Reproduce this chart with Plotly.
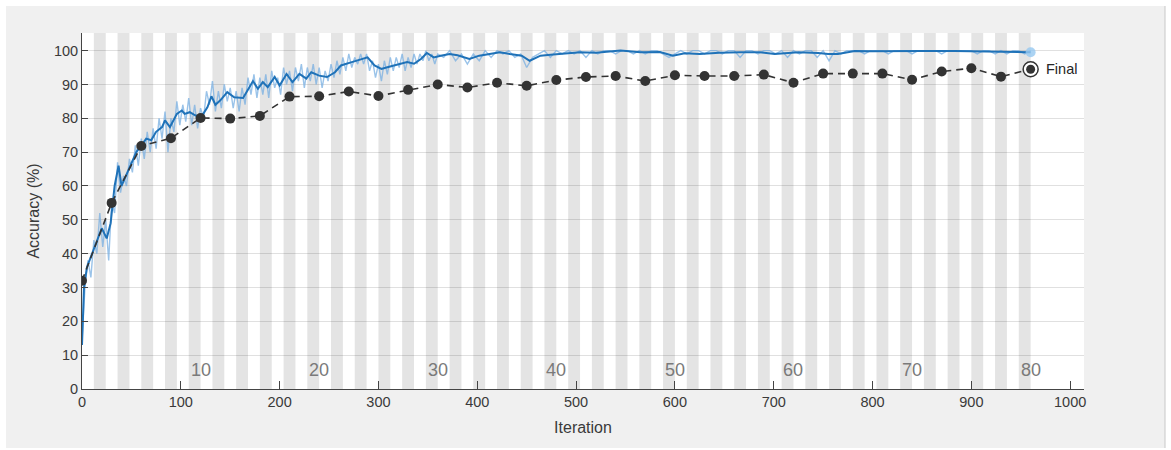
import plotly.graph_objects as go

# ---------------- data ----------------
ITERS_PER_EPOCH = 12
N_EPOCHS = 80
epoch_labels = [10, 20, 30, 40, 50, 60, 70, 80]

# raw training accuracy (mini-batch), iterations 0..360 every 3, then 366..960 every 6
raw_iter_a = list(range(0, 361, 3))
raw_acc_a = [14, 30, 38, 33, 44, 40, 52, 42, 50, 38,
             55, 52, 67, 58, 63, 60, 68, 64, 72, 66,
             74, 68, 76, 70, 77, 71, 80, 74, 82, 70,
             80, 76, 85, 78, 84, 79, 86, 78, 84, 77,
             83, 80, 88, 84, 91, 82, 88, 83, 90, 85,
             89, 83, 88, 82, 89, 84, 92, 87, 93, 86,
             92, 87, 93, 86, 94, 89, 92, 87, 95, 90,
             94, 88, 95, 91, 96, 89, 95, 91, 96, 90,
             95, 89, 94, 91, 96, 92, 97, 93, 98, 94,
             99, 95, 98, 96, 99, 96, 99, 94, 97, 92,
             96, 91, 97, 93, 98, 94, 98, 95, 99, 94,
             98, 95, 99, 96, 99, 97, 100, 97, 99, 96,
             99]
raw_iter_b = list(range(366, 961, 6))
raw_acc_b = [98, 100, 97, 99, 96, 99, 97, 100, 98, 100,
             99, 100, 98, 99, 95, 98, 99, 100, 98, 100,
             99, 100, 99, 100, 98, 100, 99, 100, 100, 99,
             100, 100, 99, 100, 99, 100, 100, 99, 98, 99,
             100, 99, 100, 100, 99, 100, 100, 99, 100, 100,
             98, 100, 100, 99, 100, 100, 99, 100, 98, 100,
             99, 100, 100, 98, 100, 97, 100, 99, 100, 100,
             100, 99, 100, 100, 100, 99, 100, 100, 100, 99,
             100, 100, 100, 100, 99, 100, 100, 100, 100, 100,
             99, 100, 100, 99, 100, 99, 100, 100, 99, 100]
raw_iter = raw_iter_a + raw_iter_b
raw_acc = raw_acc_a + raw_acc_b

# smoothed training accuracy
smooth_iter = [0, 2, 5, 10, 15, 20, 25, 29, 33, 37, 40, 45, 50, 55, 60, 65, 70, 75,
               81, 84, 89, 93, 96, 101, 104, 109, 115, 121, 127, 131, 135, 140, 147,
               154, 163, 170, 173, 178, 183, 188, 195, 200, 207, 213, 220, 227, 232,
               240, 248, 256, 262, 273, 279, 289, 296, 303, 309, 316, 323, 329, 336,
               343, 349, 356, 363, 372, 380, 392, 402, 412, 423, 433, 445, 453, 464,
               474, 484, 504, 520, 545, 565, 585, 598, 610, 625, 645, 666, 686, 701,
               725, 745, 755, 765, 782, 800, 816, 850, 883, 900, 917, 935, 951, 960]
smooth_acc = [13, 30, 36, 40, 44, 47.5, 44.5, 49, 60, 66, 60, 63.5, 67, 70, 72, 74, 73.5, 76,
              77.4, 79.4, 77.4, 79.4, 81.3, 82.3, 81.3, 81.8, 80.8, 80.5, 83.3, 86.5, 84, 85.3, 87.7,
              86.2, 86, 89.5, 91, 88.7, 90.7, 89.2, 92.2, 89.7, 93.1, 90.7, 93.1, 91.7, 93.6,
              92.6, 92.2, 93.6, 95.6, 96.6, 97.1, 98, 95.6, 94.6, 95.1, 95.6, 96.1, 96.6, 96.1,
              97.5, 99.3, 98, 98.5, 99, 98.6, 97.5, 98.5, 99, 99.5, 99, 98.5, 97, 98.5,
              98.8, 99, 99.5, 99.4, 100, 99.5, 99.6, 98.5, 99.2, 99, 99.4, 99.5, 99.5, 99,
              99.5, 99.3, 99, 99, 99.9, 99.8, 99.9, 99.9, 99.9, 99.8, 99.7, 99.5, 99.4, 99.5]

# validation accuracy, every 30 iterations
val_iter = list(range(0, 961, 30))
val_acc = [32, 55, 71.8, 74.1, 80.1, 79.9, 80.7, 86.4, 86.5, 87.9, 86.6,
           88.4, 90.0, 89.1, 90.5, 89.6, 91.3, 92.2, 92.5, 91.0, 92.7,
           92.5, 92.5, 92.9, 90.5, 93.2, 93.2, 93.2, 91.4, 93.8, 94.8,
           92.3, 94.5]

final_label = "Final"

x_ticks = list(range(0, 1001, 100))
y_ticks = list(range(0, 101, 10))

# ---------------- figure ----------------
FONT = "Liberation Sans, Arial, sans-serif"
TXT = "#3a3a3a"

fig = go.Figure()

fig.add_trace(go.Scatter(x=raw_iter, y=raw_acc, mode="lines",
                         line=dict(color="rgba(120,175,225,0.75)", width=1.4),
                         hoverinfo="skip", showlegend=False))
fig.add_trace(go.Scatter(x=smooth_iter, y=smooth_acc, mode="lines",
                         line=dict(color="#1f72b8", width=2),
                         showlegend=False))
fig.add_trace(go.Scatter(x=[smooth_iter[-1]], y=[smooth_acc[-1]], mode="markers",
                         marker=dict(color="rgba(150,200,240,0.8)", size=10),
                         showlegend=False))
fig.add_trace(go.Scatter(x=val_iter, y=val_acc, mode="lines",
                         line=dict(color="#333333", width=1.6, dash="7px,5px"),
                         showlegend=False))
fig.add_trace(go.Scatter(x=val_iter[:-1], y=val_acc[:-1], mode="markers",
                         marker=dict(color="#333333", size=10),
                         showlegend=False))
# final marker: ring + dot
fig.add_trace(go.Scatter(x=[val_iter[-1]], y=[val_acc[-1]], mode="markers",
                         marker=dict(color="white", size=15,
                                     line=dict(color="#333333", width=1.5)),
                         showlegend=False))
fig.add_trace(go.Scatter(x=[val_iter[-1]], y=[val_acc[-1]], mode="markers",
                         marker=dict(color="#333333", size=9),
                         showlegend=False))

# pixel -> paper helpers for the outer white frame
PL, PR, PT, PB = 82, 1084, 33, 389
def px(v):
    return (v - PL) / (PR - PL)
def py(v):
    return (PB - v) / (PB - PT)

shapes = []
# thin white frame around the gray figure panel (outside the plot area)
for (x0, x1, y0, y1) in [(0, 6, 0, 450), (1165, 1171, 0, 450), (0, 1171, 0, 6), (0, 1171, 448, 450)]:
    shapes.append(dict(type="rect", xref="paper", yref="paper",
                       x0=px(x0), x1=px(x1), y0=py(y1), y1=py(y0),
                       fillcolor="white", line=dict(width=0), layer="below"))
shapes.append(dict(type="line", xref="paper", yref="paper",
                   x0=px(1165), x1=px(1165), y0=py(448), y1=py(6),
                   line=dict(color="#c8c8c8", width=1), layer="below"))
# epoch bands (even epochs shaded)
for e in range(1, N_EPOCHS + 1):
    if e % 2 == 0:
        shapes.append(dict(type="rect", xref="x", yref="y domain",
                           x0=(e - 1) * ITERS_PER_EPOCH, x1=e * ITERS_PER_EPOCH,
                           y0=0, y1=1, fillcolor="#e4e4e4",
                           line=dict(width=0), layer="below"))

annotations = []
for ep in epoch_labels:
    annotations.append(dict(x=ep * ITERS_PER_EPOCH, y=5.6, xref="x", yref="y",
                            text=str(ep), showarrow=False,
                            font=dict(family=FONT, size=18, color="#7a7a7a"),
                            xanchor="center", yanchor="middle"))
annotations.append(dict(x=val_iter[-1], y=val_acc[-1], xref="x", yref="y",
                        text=final_label, showarrow=False, xshift=13,
                        font=dict(family=FONT, size=14.5, color="#262626"),
                        xanchor="left", yanchor="middle"))

fig.update_layout(
    width=1171, height=450,
    margin=dict(l=82, r=87, t=33, b=61),
    paper_bgcolor="#f0f0f0", plot_bgcolor="white",
    font=dict(family=FONT, size=14.5, color=TXT),
    shapes=shapes, annotations=annotations,
    showlegend=False,
)
fig.update_xaxes(range=[0, 1014], tickvals=x_ticks, ticks="inside", ticklen=8,
                 tickcolor="#444444", showline=True, linecolor="#444444", linewidth=1,
                 showgrid=False, zeroline=False,
                 tickfont=dict(family=FONT, size=14.5, color=TXT),
                 title=dict(text="Iteration", font=dict(family=FONT, size=16, color=TXT),
                            standoff=12))
fig.update_yaxes(range=[0, 105.2], tickvals=y_ticks, ticks="inside", ticklen=6,
                 tickcolor="#444444", showline=True, linecolor="#444444", linewidth=1,
                 showgrid=True, gridcolor="rgba(0,0,0,0.12)", gridwidth=1,
                 zeroline=False,
                 tickfont=dict(family=FONT, size=14.5, color=TXT),
                 title=dict(text="Accuracy (%)", font=dict(family=FONT, size=16, color=TXT),
                            standoff=10))

fig.write_html("out.html")
